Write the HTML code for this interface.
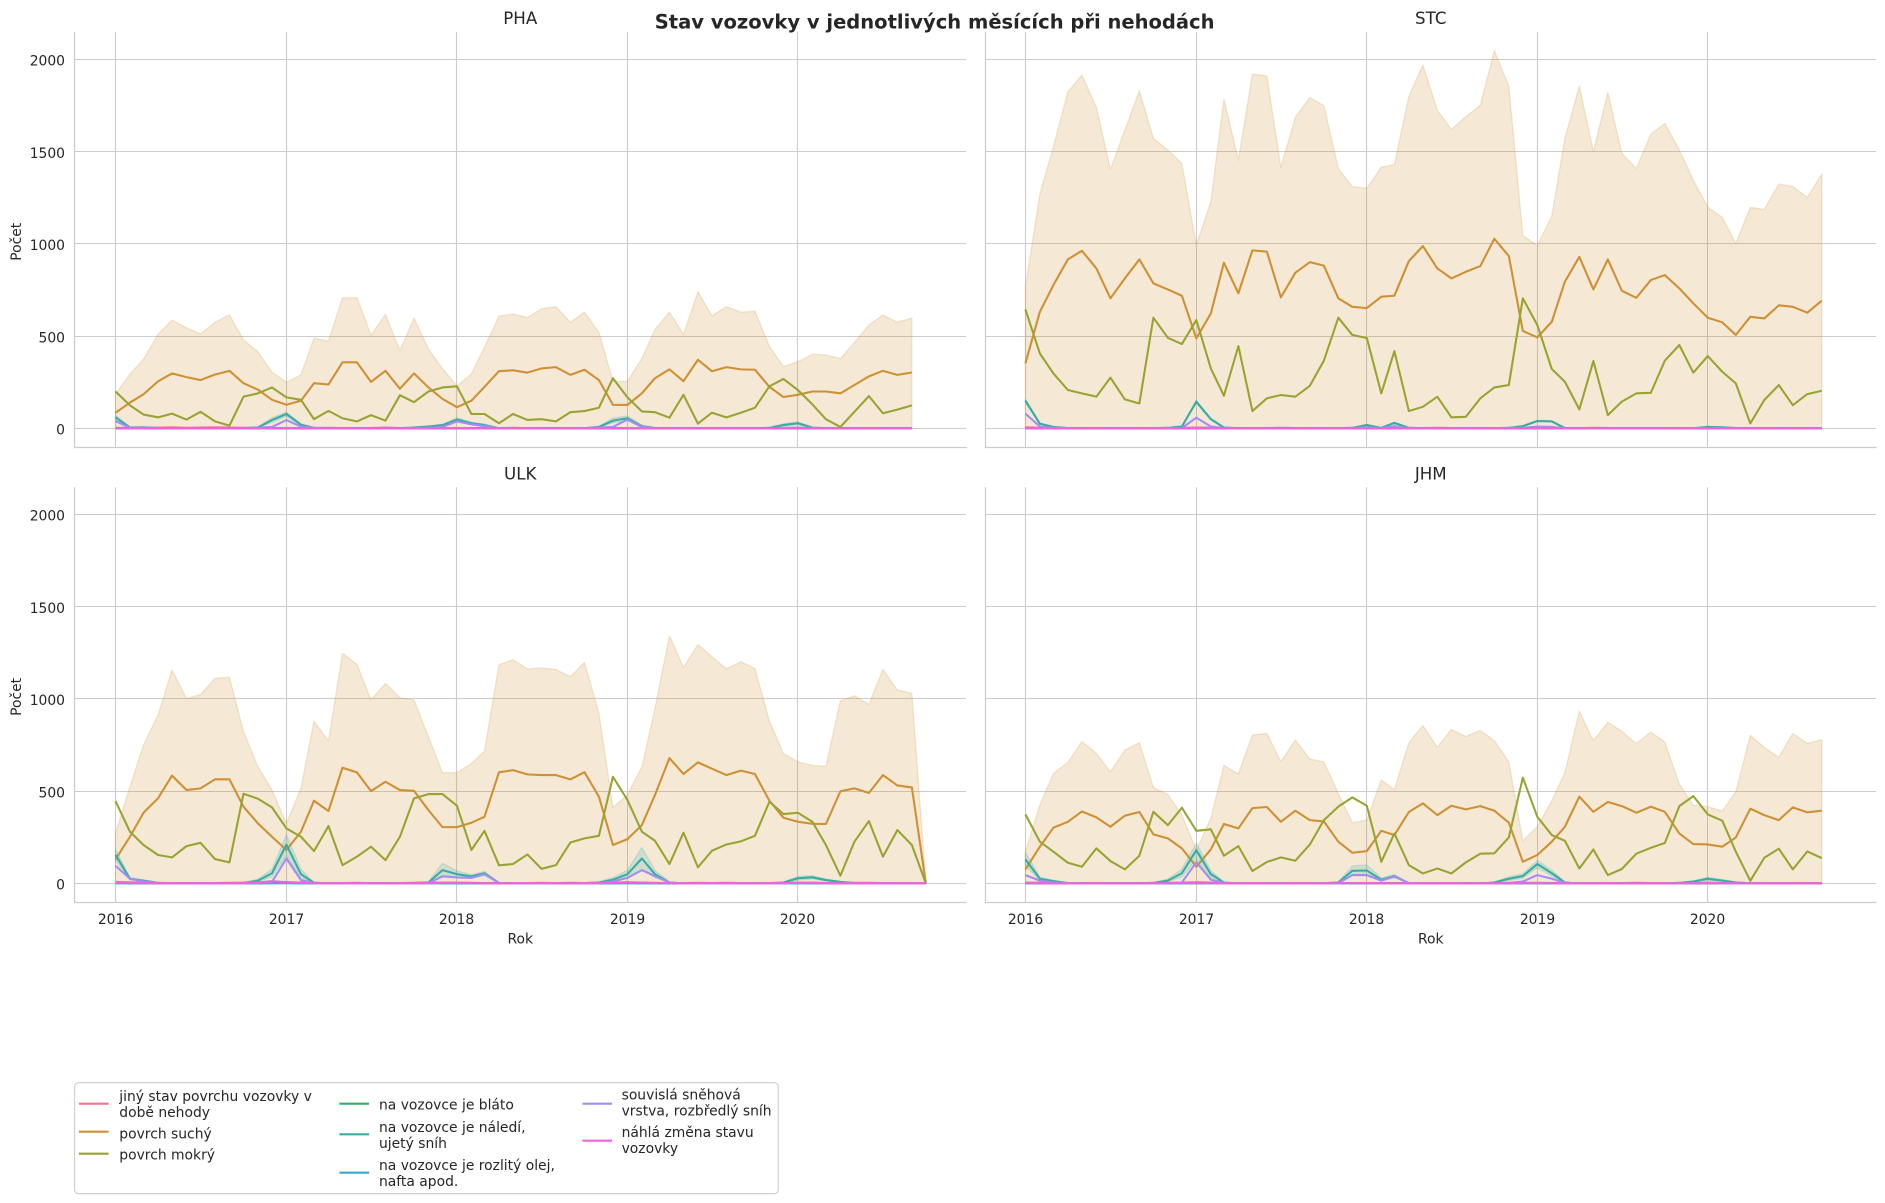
<!DOCTYPE html>
<html lang="cs">
<head>
<meta charset="utf-8">
<title>Stav vozovky v jednotlivých měsících při nehodách</title>
<style>
html,body{margin:0;padding:0;background:#fff;}
svg{display:block;}
text{font-family:"DejaVu Sans","Liberation Sans",sans-serif;fill:#262626;}
</style>
</head>
<body>
<svg id="chart" xmlns="http://www.w3.org/2000/svg" width="1885" height="1203" viewBox="0 0 1885 1203"></svg>
<script>
// ---- labels ----
const panelNames = ['PHA','STC','ULK','JHM'];
const yTicks = [0,500,1000,1500,2000];
const xTicks = [2016,2017,2018,2019,2020];

// ---- PHA ----
const phaSuchy = [85,140,185,255,298,278,262,292,312,245,210,155, 128,150,245,238,358,358,252,312,215,298,222,160, 115,150,225,310,315,302,325,332,290,318,262,128, 127,190,272,320,256,372,310,332,320,318,225,170, 182,200,200,190,235,282,312,290,303];
const phaSuchyHorni = [185,295,375,510,587,545,512,575,615,480,415,305, 250,290,490,473,708,708,505,618,420,598,430,325, 230,295,440,608,620,600,648,660,575,630,520,255, 255,380,535,630,510,740,610,660,630,635,445,335, 362,402,398,378,465,560,615,575,598];
const phaMokry = [200,125,75,60,80,48,90,38,15,172,190,222, 168,155,50,95,55,38,72,42,180,142,200,222, 228,78,78,28,78,46,50,38,88,94,112,272, 168,92,88,58,182,26,85,60,85,112,228,268, 208,130,50,8,90,175,82,102,125];
const phaNaledi = [60,5,6,1,1,1,1,1,1,2,5,45, 78,20,3,1,1,1,1,1,1,5,10,18, 48,28,18,1,1,1,1,1,1,1,8,42, 55,12,2,1,1,1,1,1,1,1,3,18, 28,4,1,1,1,1,1,1,1];
const phaNalediHorni = [72,8,9,2,2,2,2,2,2,4,9,58, 88,26,5,2,2,2,2,2,2,8,14,22, 58,34,24,2,2,2,2,2,2,2,12,56, 68,18,4,2,2,2,2,2,2,2,5,26, 36,7,2,2,2,2,2,2,2];
const phaNalediDolni = [48,2,3,0,0,0,0,0,0,0,2,32, 66,14,1,0,0,0,0,0,0,2,6,13, 38,22,12,0,0,0,0,0,0,0,4,30, 42,6,0,0,0,0,0,0,0,0,1,10, 20,1,0,0,0,0,0,0,0];
const phaSouvisla = [40,3,3,1,0,0,0,0,0,0,3,8, 45,10,2,0,0,0,0,0,0,1,3,8, 38,22,12,0,0,0,0,0,0,0,5,8, 48,8,1,0,0,0,0,0,0,0,0,2, 5,1,0,0,0,0,0,0,0];
const phaJiny = [3,2,5,4,6,3,5,6,5,3,2,2, 2,1,2,3,2,1,2,5,2,1,2,1, 2,1,1,2,3,1,2,1,2,1,2,1, 2,2,1,2,1,2,1,2,2,1,1,2, 2,1,1,2,2,1,2,1,1];
const phaBlato = [1,0,0,0,1,0,0,0,1,0,0,0, 1,0,0,0,0,1,0,0,0,0,1,0, 0,0,1,0,0,0,0,1,0,0,0,0, 1,0,0,0,0,0,1,0,0,0,1,0, 0,0,0,0,0,1,0,0,0];
const phaOlej = [0,0,1,0,0,0,0,0,0,1,0,0, 0,1,0,0,0,0,0,0,0,0,0,1, 0,0,0,0,1,0,0,0,0,0,0,0, 0,0,0,1,0,0,0,0,0,0,0,0, 1,0,0,0,0,0,0,0,0];
const phaNahla = [1,1,0,1,0,1,0,1,0,1,1,2, 2,1,0,0,1,0,0,1,0,0,1,1, 2,1,0,0,0,1,0,0,1,0,1,2, 2,1,0,0,0,0,1,0,0,0,0,1, 1,1,0,0,0,1,0,0,0];

// ---- STC ----
const stcSuchy = [352,632,777,916,963,867,705,813,916,786,753,719, 488,623,898,732,965,958,710,844,901,882,705,659, 652,714,719,907,988,867,813,849,880,1028,934,528, 493,578,795,930,753,916,746,708,804,831,759,678, 600,575,506,605,596,667,659,627,692];
const stcSuchyHorni = [768,1270,1527,1825,1915,1740,1404,1617,1830,1572,1509,1436, 994,1229,1785,1454,1920,1910,1415,1686,1794,1749,1409,1310, 1301,1416,1429,1801,1969,1725,1621,1689,1752,2047,1855,1046, 990,1151,1572,1855,1500,1821,1490,1409,1595,1653,1509,1346, 1198,1144,1003,1198,1187,1324,1310,1252,1378];
const stcMokry = [645,406,298,208,190,172,275,157,135,600,491,457, 587,325,177,446,94,163,181,172,231,367,600,506, 490,190,419,94,117,172,60,63,163,222,235,705, 560,322,253,103,365,72,145,190,193,367,452,302, 392,307,244,27,154,235,126,186,204];
const stcNaledi = [150,25,8,2,1,1,1,1,1,1,3,10, 145,50,5,1,1,1,1,1,1,1,1,3, 18,3,30,3,1,1,1,1,1,1,3,12, 40,38,2,1,1,1,1,1,1,1,1,1, 8,6,2,1,1,1,1,1,1];
const stcNalediHorni = [160,30,10,3,2,2,2,2,2,2,5,13, 152,56,7,2,2,2,2,2,2,2,2,5, 22,5,34,4,2,2,2,2,2,2,5,16, 44,42,4,2,2,2,2,2,2,2,2,2, 11,8,4,2,2,2,2,2,2];
const stcNalediDolni = [140,20,5,1,0,0,0,0,0,0,1,7, 138,44,3,0,0,0,0,0,0,0,0,1, 14,1,26,1,0,0,0,0,0,0,1,8, 36,34,1,0,0,0,0,0,0,0,0,0, 5,3,1,0,0,0,0,0,0];
const stcSouvisla = [80,10,3,1,0,0,0,0,0,0,1,2, 58,10,2,0,0,0,0,0,0,0,0,1, 5,1,12,1,0,0,0,0,0,0,1,3, 10,8,1,0,0,0,0,0,0,0,0,0, 2,1,0,0,0,0,0,0,0];
const stcJiny = [6,3,2,2,1,2,1,2,1,1,2,3, 5,4,2,1,1,2,3,2,1,1,1,2, 1,1,2,1,2,3,2,1,1,2,1,1, 1,2,1,1,3,2,1,1,1,2,1,1, 1,1,2,1,1,1,1,2,1];
const stcBlato = [0,1,0,0,0,0,1,0,0,0,0,1, 0,0,0,1,0,0,0,0,1,0,0,0, 1,0,0,0,0,1,0,0,0,0,0,1, 0,0,0,0,1,0,0,0,0,0,1,0, 0,0,0,1,0,0,0,0,0];
const stcOlej = [0,0,0,1,0,0,0,0,0,1,0,0, 0,0,1,0,0,0,0,0,0,0,1,0, 0,0,0,0,0,0,1,0,0,0,0,0, 0,1,0,0,0,0,0,0,0,1,0,0, 0,0,0,0,0,0,1,0,0];
const stcNahla = [1,1,0,0,0,1,0,0,1,0,1,1, 2,1,0,0,1,0,0,0,1,0,0,1, 1,0,1,0,0,1,0,0,0,1,0,1, 2,1,0,0,1,0,0,0,0,0,0,1, 1,0,0,0,1,0,0,0,0];

// ---- ULK ----
const ulkSuchy = [130,253,383,461,584,506,515,564,564,416,325,253, 181,280,448,392,627,602,500,551,506,502,397,305, 305,329,361,602,614,591,587,587,564,603,470,208, 240,316,479,679,593,656,622,587,611,593,448,356, 334,323,322,499,515,490,587,531,520,0];
const ulkSuchyHorni = [271,524,750,912,1156,1001,1024,1111,1117,822,632,506, 325,515,880,771,1247,1187,994,1084,1006,994,795,600, 600,650,717,1185,1212,1163,1167,1160,1120,1198,921,412, 482,632,948,1342,1171,1295,1229,1163,1201,1165,880,705, 659,640,634,990,1017,970,1160,1048,1030,0];
const ulkMokry = [446,280,208,154,141,202,220,132,114,486,459,412, 298,253,175,311,99,145,199,126,253,461,484,484, 421,181,285,98,105,157,79,99,222,244,258,578, 452,280,231,105,275,87,177,211,228,258,443,376, 383,334,208,42,226,338,145,289,208,0];
const ulkNaledi = [155,25,15,3,1,1,1,1,1,2,15,55, 210,50,3,0,0,0,0,0,1,2,5,72, 50,38,55,2,0,0,0,0,0,1,5,20, 50,135,50,5,0,0,0,0,0,1,1,5, 28,33,18,8,2,1,1,1,1,0];
const ulkNalediHorni = [185,32,20,5,2,2,2,2,3,5,24,78, 265,78,6,1,1,1,1,1,2,4,9,110, 68,48,65,4,1,1,1,1,1,3,9,32, 72,195,72,9,1,1,1,1,1,2,2,8, 38,42,24,11,4,2,2,2,2,0];
const ulkNalediDolni = [125,18,10,1,0,0,0,0,0,0,8,35, 150,28,1,0,0,0,0,0,0,0,2,45, 35,28,42,0,0,0,0,0,0,0,2,10, 30,75,30,2,0,0,0,0,0,0,0,2, 18,24,12,5,1,0,0,0,0,0];
const ulkSouvisla = [95,25,10,1,0,0,0,0,0,0,3,8, 135,18,2,0,0,0,0,0,0,0,1,38, 32,30,50,2,0,0,0,0,0,0,1,10, 30,72,40,5,0,0,0,0,0,0,0,0, 3,5,2,0,0,0,0,0,0,0];
const ulkJiny = [8,6,4,2,1,2,1,2,3,4,6,9, 7,5,3,1,2,3,1,2,2,3,5,4, 4,3,2,1,1,2,2,1,3,2,4,5, 6,5,3,1,2,3,2,3,2,1,2,3, 3,2,2,1,3,3,2,1,1,0];
const ulkBlato = [1,1,0,0,0,1,0,0,0,1,1,2, 2,1,0,0,0,0,1,0,1,2,1,3, 2,2,1,0,0,0,1,0,0,0,1,2, 3,3,1,0,0,0,0,1,0,0,0,1, 2,1,1,0,0,1,0,0,0,0];
const ulkOlej = [1,0,0,0,0,0,0,1,0,0,0,1, 1,0,0,0,0,0,0,0,0,0,1,0, 0,0,0,1,0,0,0,0,0,0,0,0, 1,0,0,0,0,0,1,0,0,0,0,0, 1,0,0,0,0,0,0,0,0,0];
const ulkNahla = [4,3,2,1,1,1,1,1,1,2,5,12, 6,3,1,0,1,2,1,0,1,1,2,3, 3,2,1,0,1,2,3,1,0,1,2,4, 6,4,2,1,0,1,2,2,1,0,1,2, 3,2,1,0,1,2,1,1,1,0];

// ---- JHM ----
const jhmSuchy = [76,199,302,334,390,358,307,367,387,266,244,190, 90,184,322,298,408,414,334,394,343,336,226,166, 175,285,262,387,434,370,421,401,419,394,329,117, 154,226,307,470,388,441,419,383,416,388,271,213, 211,199,249,405,370,343,412,385,394];
const jhmSuchyHorni = [172,425,596,656,768,705,605,723,762,520,482,370, 181,352,640,593,804,813,659,777,674,659,488,329, 343,560,509,762,856,737,835,797,829,773,659,231, 307,448,600,934,773,873,824,757,820,766,538,425, 416,392,497,802,737,683,813,759,779];
const jhmMokry = [374,226,172,112,90,190,121,76,150,388,316,410, 285,293,150,202,67,116,141,123,211,343,416,466, 421,117,271,99,54,81,54,114,161,163,249,573, 361,262,231,81,184,45,78,161,193,219,419,473, 374,340,172,14,139,188,76,173,137];
const jhmNaledi = [130,25,12,2,1,1,1,1,1,3,15,55, 180,50,5,0,0,0,0,0,0,1,5,68, 70,20,40,1,0,0,0,0,0,5,25,40, 105,55,5,0,0,0,0,0,0,0,3,10, 25,15,5,1,0,0,0,0,0];
const jhmNalediHorni = [170,35,18,4,2,2,2,2,2,5,24,78, 220,70,8,1,1,1,1,1,1,2,9,95, 100,30,48,2,1,1,1,1,1,9,36,52, 125,72,8,1,1,1,1,1,1,1,5,14, 34,22,8,2,1,1,1,1,1];
const jhmNalediDolni = [95,16,7,1,0,0,0,0,0,1,8,34, 130,30,2,0,0,0,0,0,0,0,2,42, 42,12,30,0,0,0,0,0,0,2,15,28, 85,38,2,0,0,0,0,0,0,0,1,6, 16,9,2,0,0,0,0,0,0];
const jhmSouvisla = [45,15,5,1,0,0,0,0,0,0,1,5, 115,20,3,0,0,0,0,0,0,0,1,45, 45,15,38,2,0,0,0,0,0,0,3,10, 45,25,3,0,0,0,0,0,0,0,0,2, 3,1,0,0,0,0,0,0,0];
const jhmJiny = [5,4,3,2,1,1,2,1,1,2,3,4, 7,5,2,1,1,2,1,2,1,1,2,2, 2,1,2,1,1,1,2,1,2,1,2,3, 3,2,1,1,2,2,1,3,2,1,1,2, 3,2,1,1,1,2,1,1,1];
const jhmBlato = [1,0,0,0,1,0,0,0,0,1,0,1, 2,1,0,0,0,0,1,0,0,0,0,2, 2,1,1,0,0,0,0,1,0,0,1,1, 2,1,0,0,0,0,1,0,0,0,0,1, 1,0,0,0,0,0,0,1,0];
const jhmOlej = [0,0,1,0,0,0,0,0,1,0,0,0, 1,0,0,0,1,0,0,0,0,0,0,0, 0,1,0,0,0,0,0,0,0,0,0,0, 1,0,0,0,0,1,0,0,0,0,0,0, 0,1,0,0,0,0,0,0,0];
const jhmNahla = [1,1,0,0,0,1,0,0,0,1,1,2, 2,1,0,0,1,0,0,1,0,0,1,1, 2,1,0,0,0,0,1,0,0,0,1,1, 2,1,0,0,0,1,0,0,1,0,0,1, 1,1,0,0,0,0,0,1,0];

// ---- layout (not data) ----
const SVG_NS = 'http://www.w3.org/2000/svg';
const svg = document.getElementById('chart');
const C = {jiny:'#f77189',suchy:'#ce9032',mokry:'#97a431',blato:'#32b166',naledi:'#36ada4',olej:'#39a7d0',souvisla:'#a48cf4',nahla:'#f561dd'};
const PX_PER_DAY = 682.4 / 1461;
const PX_PER_UNIT = 0.1845;

function daysFromStart(monthIndex){
  return (Date.UTC(2016, monthIndex, 1) - Date.UTC(2016, 0, 1)) / 86400000;
}
function xScale(frame, monthIndex){ return frame.x2016 + daysFromStart(monthIndex) * PX_PER_DAY; }
function yScale(frame, value){ return frame.y0 - value * PX_PER_UNIT; }
function snap(p){ return Math.floor(p) + 0.5; }
function mk(tag, attrs, parent){
  const el = document.createElementNS(SVG_NS, tag);
  for (const k in attrs) el.setAttribute(k, attrs[k]);
  (parent || svg).appendChild(el);
  return el;
}
function label(parent, x, y, str, size, anchor, extra){
  const t = mk('text', Object.assign({x:x, y:y, 'font-size':size, 'text-anchor':anchor}, extra || {}), parent);
  t.textContent = str;
  return t;
}
function linePath(frame, values){
  return values.map((v,i)=>(i?'L':'M')+xScale(frame,i).toFixed(2)+' '+yScale(frame,v).toFixed(2)).join('');
}
function bandPath(frame, upper, lower){
  let d = upper.map((v,i)=>(i?'L':'M')+xScale(frame,i).toFixed(2)+' '+yScale(frame,v).toFixed(2)).join('');
  for (let i = lower.length - 1; i >= 0; i--) d += 'L'+xScale(frame,i).toFixed(2)+' '+yScale(frame,lower[i]).toFixed(2);
  return d + 'Z';
}

const frames = [
  {name:panelNames[0], left:74.5, right:966, top:32, bottom:447.5, y0:428.4, x2016:115.5, showX:false, showY:true,
   suchy:phaSuchy, horni:phaSuchyHorni, mokry:phaMokry, naledi:phaNaledi, nalediH:phaNalediHorni, nalediD:phaNalediDolni, souvisla:phaSouvisla, jiny:phaJiny, blato:phaBlato, olej:phaOlej, nahla:phaNahla},
  {name:panelNames[1], left:985.5, right:1876, top:32, bottom:447.5, y0:428.4, x2016:1025.4, showX:false, showY:false,
   suchy:stcSuchy, horni:stcSuchyHorni, mokry:stcMokry, naledi:stcNaledi, nalediH:stcNalediHorni, nalediD:stcNalediDolni, souvisla:stcSouvisla, jiny:stcJiny, blato:stcBlato, olej:stcOlej, nahla:stcNahla},
  {name:panelNames[2], left:74.5, right:966, top:487.3, bottom:902.5, y0:883.4, x2016:115.5, showX:true, showY:true,
   suchy:ulkSuchy, horni:ulkSuchyHorni, mokry:ulkMokry, naledi:ulkNaledi, nalediH:ulkNalediHorni, nalediD:ulkNalediDolni, souvisla:ulkSouvisla, jiny:ulkJiny, blato:ulkBlato, olej:ulkOlej, nahla:ulkNahla},
  {name:panelNames[3], left:985.5, right:1876, top:487.3, bottom:902.5, y0:883.4, x2016:1025.4, showX:true, showY:false,
   suchy:jhmSuchy, horni:jhmSuchyHorni, mokry:jhmMokry, naledi:jhmNaledi, nalediH:jhmNalediHorni, nalediD:jhmNalediDolni, souvisla:jhmSouvisla, jiny:jhmJiny, blato:jhmBlato, olej:jhmOlej, nahla:jhmNahla}
];

frames.forEach(function(f){
  const key = f.name.toLowerCase();
  const g = mk('g', {});
  
  

  // grid
  yTicks.forEach(function(v){
    const y = snap(yScale(f, v));
    const ln = mk('line', {x1:f.left, x2:f.right, y1:y, y2:y, stroke:'#cccccc', 'stroke-width':1.1}, g);
    
    
    if (f.showY) {
      const t = label(g, 65, yScale(f, v) + 6.1, String(v), 13.89, 'end');
      
      
    }
  });
  xTicks.forEach(function(yr, i){
    const x = snap(xScale(f, i * 12));
    const ln = mk('line', {x1:x, x2:x, y1:f.top, y2:f.bottom, stroke:'#cccccc', 'stroke-width':1.1}, g);
    
    
    if (f.showX) {
      const t = label(g, x, f.bottom + 21.5, String(yr), 13.89, 'middle');
      
      
    }
  });

  // spines
  const sl = mk('line', {x1:f.left, x2:f.left, y1:f.top, y2:f.bottom + 0.6, stroke:'#cccccc', 'stroke-width':1.3}, g);
  
  
  const sb = mk('line', {x1:f.left, x2:f.right + 0.7, y1:f.bottom, y2:f.bottom, stroke:'#cccccc', 'stroke-width':1.3}, g);
  
  

  // bands
  const zeros = f.horni.map(function(){ return 0; });
  const b1 = mk('path', {d:bandPath(f, f.horni, zeros), fill:C.suchy, 'fill-opacity':0.2, stroke:C.suchy, 'stroke-opacity':0.2, 'stroke-width':1.4, 'stroke-linejoin':'round'}, g);
  
  
  const b2 = mk('path', {d:bandPath(f, f.nalediH, f.nalediD), fill:C.naledi, 'fill-opacity':0.2, stroke:C.naledi, 'stroke-opacity':0.2, 'stroke-width':1.2, 'stroke-linejoin':'round'}, g);
  
  

  // lines
  const addLine = function(values, color, nm){
    const p = mk('path', {d:linePath(f, values), fill:'none', stroke:color, 'stroke-width':2.08, 'stroke-linejoin':'round', 'stroke-linecap':'butt'}, g);
    
    
  };
  addLine(f.jiny, C.jiny, 'line-jiny-stav');
  addLine(f.suchy, C.suchy, 'line-povrch-suchy');
  addLine(f.mokry, C.mokry, 'line-povrch-mokry');
  addLine(f.blato, C.blato, 'line-blato');
  addLine(f.naledi, C.naledi, 'line-naledi');
  addLine(f.olej, C.olej, 'line-olej');
  addLine(f.souvisla, C.souvisla, 'line-souvisla-snehova');
  addLine(f.nahla, C.nahla, 'line-nahla-zmena');

  // titles
  const cx = (f.left + f.right) / 2;
  const tt = label(g, cx, f.top - 8, f.name, 16.67, 'middle');
  
  
  if (f.showX) {
    const xl = label(g, cx, f.bottom + 41, 'Rok', 13.89, 'middle');
    
    
  }
  if (f.showY) {
    const yc = (f.top + f.bottom) / 2 + 2;
    const yl = label(g, 0, 0, 'Počet', 13.89, 'middle', {transform:'translate(21,' + yc + ') rotate(-90)'});
    
    
  }
});

// suptitle
const sup = label(svg, 934.6, 28.4, 'Stav vozovky v jednotlivých měsících při nehodách', 19.52, 'middle', {'font-weight':'bold'});



// legend
const legend = mk('g', {});


const frameRect = mk('rect', {x:74.6, y:1082.7, width:703.7, height:111, rx:4, ry:4, fill:'#fff', stroke:'#cccccc', 'stroke-width':1.1}, legend);



const legendLabels = [
  ['jiný stav povrchu vozovky v','době nehody'],
  ['povrch suchý'],
  ['povrch mokrý'],
  ['na vozovce je bláto'],
  ['na vozovce je náledí,','ujetý sníh'],
  ['na vozovce je rozlitý olej,','nafta apod.'],
  ['souvislá sněhová','vrstva, rozbředlý sníh'],
  ['náhlá změna stavu','vozovky']
];
const legendColors = [C.jiny,C.suchy,C.mokry,C.blato,C.naledi,C.olej,C.souvisla,C.nahla];
const legendX = [78.9,78.9,78.9,339.4,339.4,339.4,582.4,582.4];
const legendTextX = [119.3,119.3,119.3,379,379,379,621.6,621.6];
const legendHandleY = [1103.7,1131.7,1153.7,1103.7,1134.3,1172.7,1103.7,1140.7];
const legendFirstBase = [1101.2,1138.4,1159.6,1109.4,1131.8,1170,1099.6,1137.1];
legendLabels.forEach(function(lines, i){
  const e = mk('g', {}, legend);
  
  
  mk('line', {x1:legendX[i], x2:legendX[i] + 29.7, y1:legendHandleY[i], y2:legendHandleY[i], stroke:legendColors[i], 'stroke-width':2.08}, e);
  lines.forEach(function(s, j){
    label(e, legendTextX[i], legendFirstBase[i] + j * 16, s, 13.89, 'start');
  });
});
</script>
</body>
</html>
